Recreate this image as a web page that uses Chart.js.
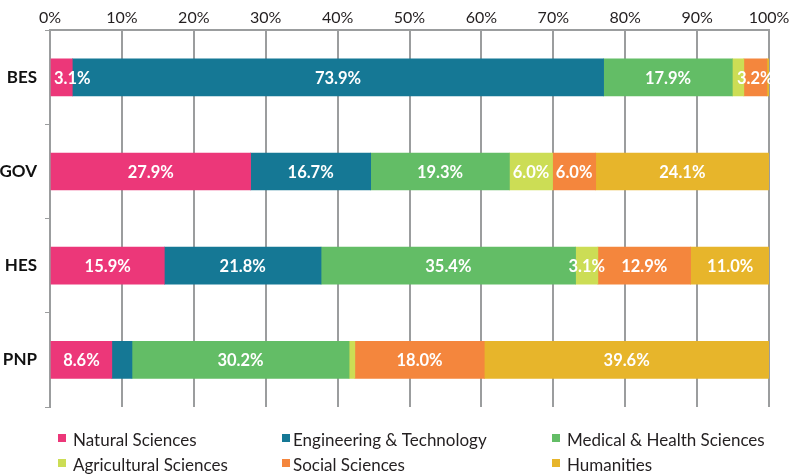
<!DOCTYPE html>
<html>
<head>
<meta charset="utf-8">
<script src="https://cdn.jsdelivr.net/npm/chart.js@4.4.1/dist/chart.umd.min.js"></script>
<style>
  html, body { margin: 0; padding: 0; background: #ffffff; }
  #wrap { position: relative; width: 800px; height: 476px; }
</style>
</head>
<body>
<div id="wrap"><canvas id="c" width="800" height="476"></canvas></div>
<script>
const categories = ["BES", "GOV", "HES", "PNP"];
const seriesNames = ["Natural Sciences", "Engineering & Technology", "Medical & Health Sciences", "Agricultural Sciences", "Social Sciences", "Humanities"];
const naturalSciences = [3.1, 27.9, 15.9, 8.6];
const engineeringTechnology = [73.9, 16.7, 21.8, 2.8];
const medicalHealth = [17.9, 19.3, 35.4, 30.2];
const agricultural = [1.6, 6.0, 3.1, 0.8];
const socialSciences = [3.2, 6.0, 12.9, 18.0];
const humanities = [0.3, 24.1, 11.0, 39.6];
const xTicks = [0, 10, 20, 30, 40, 50, 60, 70, 80, 90, 100];

const colors = ["#EC3779", "#157895", "#63BD66", "#CCDD55", "#F4863D", "#E7B52B"];
const seriesValues = [naturalSciences, engineeringTechnology, medicalHealth, agricultural, socialSciences, humanities];

const FONT = "Lato, 'Liberation Sans', sans-serif";
const GRID = "#9b9d9e";

const labelPlugin = {
  id: 'segLabels',
  afterDatasetsDraw(chart) {
    const ctx = chart.ctx;
    const area = chart.chartArea;
    ctx.save();
    ctx.font = "bold 16.5px " + FONT;
    ctx.fillStyle = "#ffffff";
    ctx.textBaseline = "middle";
    ctx.textAlign = "left";
    chart.data.datasets.forEach((ds, di) => {
      const meta = chart.getDatasetMeta(di);
      meta.data.forEach((el, i) => {
        const v = ds.data[i];
        if (v < 3) return;
        const txt = v.toFixed(1) + "%";
        const w = ctx.measureText(txt).width;
        let cx = (el.x + el.base) / 2;
        let left = cx - w / 2;
        if (left < area.left + 4) left = area.left + 4;
        ctx.fillText(txt, left, el.y + 1);
      });
    });
    ctx.restore();
  }
};

const legendPlugin = {
  id: 'gridLegend',
  afterDraw(chart) {
    const ctx = chart.ctx;
    const cols = [58, 282, 552];
    const rows = [440, 465];
    ctx.save();
    ctx.font = "17px " + FONT;
    ctx.textBaseline = "middle";
    ctx.textAlign = "left";
    chart.data.datasets.forEach((ds, i) => {
      const x = cols[i % 3];
      const y = rows[Math.floor(i / 3)];
      ctx.fillStyle = ds.backgroundColor;
      ctx.fillRect(x, y - 6, 8, 8);
      ctx.fillStyle = "#231f20";
      ctx.fillText(ds.label, x + (i % 3 === 1 ? 11 : 15), y + 1);
    });
    ctx.restore();
  }
};

const datasets = seriesNames.map((name, i) => ({
  label: name,
  data: seriesValues[i],
  backgroundColor: colors[i],
  borderWidth: 0,
  barThickness: 37
}));

new Chart(document.getElementById('c'), {
  type: 'bar',
  data: { labels: categories, datasets: datasets },
  options: {
    indexAxis: 'y',
    responsive: false,
    animation: false,
    layout: { padding: { top: 5, right: 31, bottom: 69, left: 0 } },
    plugins: { legend: { display: false }, tooltip: { enabled: false } },
    scales: {
      x: {
        position: 'top',
        stacked: true,
        min: 0, max: 100,
        afterBuildTicks(scale) { scale.ticks = xTicks.map(v => ({ value: v })); },
        ticks: {
          callback: v => v + "%",
          font: { family: FONT, size: 16 },
          color: "#231f20",
          padding: 3,
          maxRotation: 0
        },
        grid: { color: GRID, lineWidth: 2, tickLength: 0, drawTicks: false },
        border: { display: true, color: GRID, width: 2 }
      },
      y: {
        stacked: true,
        afterFit(scale) { scale.width = 50; },
        ticks: {
          font: { family: FONT, size: 17, weight: 'bold' },
          color: "#111111",
          padding: 8
        },
        grid: { display: true, drawOnChartArea: false, offset: true, tickLength: 5, color: GRID, lineWidth: 1 },
        border: { display: true, color: GRID, width: 2 }
      }
    }
  },
  plugins: [labelPlugin, legendPlugin]
});
</script>
</body>
</html>
